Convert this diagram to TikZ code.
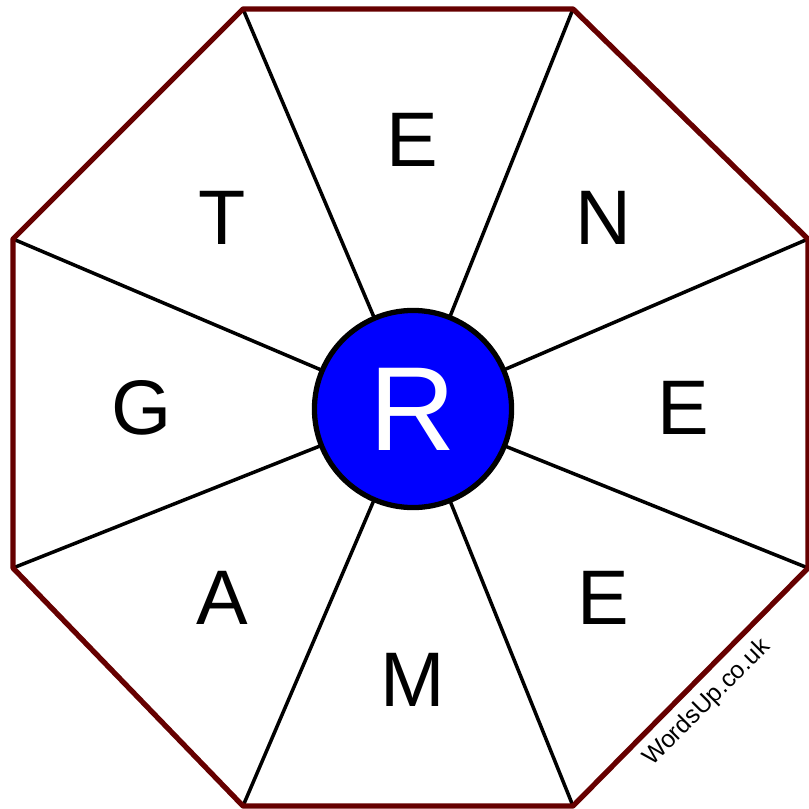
\documentclass[tikz,border=0pt]{standalone}
\usepackage{fontspec}
\setmainfont{Liberation Sans}
\definecolor{rim}{RGB}{102,0,0}
\begin{document}
\begin{tikzpicture}[x=0.01cm,y=-0.01cm,line cap=round,line join=round]
					\useasboundingbox (0,0) rectangle (808,809);
					\tikzset{letter/.style={font=\fontsize{22}{26}\selectfont,inner sep=0pt},
						spoke/.style={line width=1pt}}
					\foreach \n/\x/\y in{1/243/9,2/573/9,3/808/239,4/808/568,5/573/806,6/243/806,7/13/568,8/13/239}{\coordinate (v\n) at (\x,\y);}
					\node[circle,draw,fill=blue,line width=1.5pt,minimum size=1.97cm,text=white,font=\fontsize{34}{40}\selectfont] (hub) at (413,409) {R};
					\foreach \n in{1,...,8}{\draw[spoke] (hub) -- (v\n);}
					\draw[rim,line width=1.5pt] (v1)--(v2)--(v3)--(v4)--(v5)--(v6)--(v7)--(v8)--cycle;
					\foreach \t/\x/\y [count=\n] in{E/412/140,N/603/218,E/683/408,E/603/598,M/413/680,A/222/598,G/142/408,T/222/218}{\node[letter] (l\n) at (\x,\y) {\t};}
					\node[rotate=45,font=\fontsize{7}{8}\selectfont] (site) at (707,703) {WordsUp.co.uk};
				\end{tikzpicture}
\end{document}
